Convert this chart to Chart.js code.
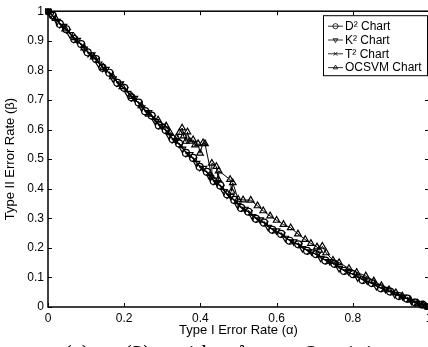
<!DOCTYPE html>
<html><head><meta charset="utf-8">
<script src="https://cdn.jsdelivr.net/npm/chart.js@4/dist/chart.umd.min.js"></script>
<style>
html,body{margin:0;padding:0;background:#fff;overflow:hidden;width:428px;height:347px;}
#wrap{position:absolute;left:0;top:0;width:440px;height:347px;}
#cap{position:absolute;left:0;top:342px;width:600px;height:40px;font-family:"Liberation Serif",serif;font-size:23px;line-height:23px;white-space:nowrap;color:#000;}
#cap span{position:absolute;top:0;}
</style></head><body>
<div id="wrap"><canvas id="c"></canvas></div>
<div id="cap"><span style="left:64px">(a)</span><span style="left:101px"><i>t</i><sub style="font-size:14px">1</sub></span><span style="left:124px">(3)</span><span style="left:172px">with</span><span style="left:238px"><i>λ</i></span><span style="left:272px">=</span><span style="left:306px">2</span><span style="left:330px">mixing</span></div>
<script>
// ---- data ----
const seriesLabels = ['D² Chart', 'K² Chart', 'T² Chart', 'OCSVM Chart'];
const xTickLabels = ['0', '0.2', '0.4', '0.6', '0.8', '1'];
const yTickLabels = ['0', '0.1', '0.2', '0.3', '0.4', '0.5', '0.6', '0.7', '0.8', '0.9', '1'];

const d2Alpha = [0,0.012,0.031,0.048,0.069,0.087,0.104,0.126,0.143,0.161,0.182,0.2,0.219,0.238,0.255,0.272,0.291,0.309,0.327,0.344,0.362,0.381,0.398,0.417,0.435,0.452,0.47,0.489,0.507,0.526,0.546,0.567,0.589,0.612,0.634,0.657,0.68,0.703,0.728,0.752,0.777,0.801,0.826,0.85,0.874,0.898,0.921,0.943,0.964,0.983,1];
const d2Beta  = [1,0.986,0.957,0.939,0.906,0.889,0.861,0.838,0.809,0.792,0.758,0.741,0.709,0.691,0.662,0.647,0.614,0.598,0.568,0.553,0.521,0.504,0.474,0.457,0.426,0.411,0.381,0.362,0.335,0.322,0.298,0.285,0.261,0.247,0.224,0.212,0.19,0.179,0.157,0.146,0.122,0.111,0.091,0.081,0.063,0.052,0.037,0.028,0.015,0.008,0];

const k2Alpha = [0,0.008,0.024,0.041,0.058,0.077,0.095,0.115,0.133,0.152,0.171,0.19,0.209,0.227,0.246,0.264,0.282,0.3,0.318,0.336,0.353,0.372,0.39,0.408,0.426,0.444,0.462,0.48,0.498,0.517,0.537,0.557,0.578,0.6,0.623,0.645,0.668,0.692,0.716,0.74,0.764,0.789,0.813,0.838,0.862,0.886,0.91,0.932,0.954,0.974,0.99,1];
const k2Beta  = [1,0.99,0.966,0.949,0.921,0.902,0.872,0.853,0.822,0.804,0.772,0.755,0.723,0.706,0.674,0.658,0.627,0.611,0.579,0.563,0.534,0.516,0.486,0.469,0.438,0.421,0.391,0.374,0.344,0.331,0.306,0.295,0.27,0.258,0.233,0.221,0.198,0.187,0.165,0.154,0.131,0.12,0.099,0.089,0.07,0.06,0.043,0.034,0.02,0.012,0.004,0];

const t2Alpha = [0,0.016,0.036,0.054,0.073,0.091,0.11,0.129,0.148,0.166,0.186,0.205,0.224,0.242,0.26,0.277,0.295,0.313,0.331,0.349,0.367,0.385,0.403,0.421,0.439,0.457,0.475,0.493,0.512,0.531,0.551,0.572,0.594,0.617,0.639,0.662,0.686,0.71,0.734,0.758,0.783,0.807,0.832,0.856,0.88,0.904,0.927,0.948,0.969,0.987,1];
const t2Beta  = [1,0.98,0.95,0.932,0.9,0.884,0.852,0.835,0.802,0.787,0.752,0.735,0.702,0.687,0.655,0.641,0.609,0.594,0.561,0.546,0.514,0.499,0.467,0.452,0.42,0.405,0.373,0.357,0.33,0.319,0.293,0.282,0.257,0.244,0.22,0.209,0.186,0.176,0.153,0.142,0.118,0.108,0.088,0.078,0.06,0.049,0.034,0.026,0.013,0.006,0];

const ocAlpha = [0,0.02,0.045,0.07,0.095,0.12,0.145,0.17,0.195,0.22,0.245,0.265,0.289,0.31,0.32,0.338,0.345,0.352,0.356,0.362,0.366,0.372,0.381,0.386,0.394,0.399,0.407,0.412,0.43,0.43,0.442,0.447,0.448,0.478,0.482,0.485,0.499,0.512,0.532,0.55,0.565,0.583,0.6,0.618,0.637,0.656,0.675,0.69,0.706,0.712,0.72,0.73,0.748,0.764,0.79,0.81,0.834,0.855,0.875,0.895,0.913,0.93,0.95,0.97,0.985,1];
const ocBeta  = [1,0.975,0.94,0.91,0.876,0.845,0.81,0.778,0.745,0.712,0.68,0.652,0.632,0.612,0.59,0.572,0.59,0.605,0.578,0.56,0.592,0.56,0.565,0.548,0.552,0.52,0.555,0.552,0.44,0.486,0.475,0.431,0.46,0.431,0.391,0.42,0.364,0.362,0.361,0.342,0.325,0.308,0.293,0.279,0.268,0.247,0.228,0.215,0.203,0.192,0.205,0.183,0.158,0.15,0.13,0.117,0.105,0.088,0.072,0.058,0.048,0.037,0.024,0.013,0.006,0];

const pts = (xs, ys) => xs.map((v, i) => ({x: v, y: ys[i]}));
const pointStyles = ['circle', 'triangle', 'crossRot', 'triangle'];
const pointRots = [0, 180, 0, 0];
const pointRadii = [3.5, 3.7, 3.5, 3.8];

function ds(i, data) {
  return {
    label: seriesLabels[i], data, showLine: true,
    borderColor: '#000', borderWidth: 1, backgroundColor: 'rgba(0,0,0,0)',
    pointStyle: pointStyles[i], pointRotation: pointRots[i], pointRadius: pointRadii[i],
    pointBorderColor: '#000', pointBackgroundColor: 'rgba(0,0,0,0)', pointBorderWidth: 1.2,
    clip: 3
  };
}

const framePlugin = {
  id: 'frame',
  afterDatasetsDraw(chart) {
    const {ctx, chartArea: a, scales: {x, y}} = chart;
    ctx.save();
    ctx.strokeStyle = '#000';
    ctx.lineWidth = 1;
    ctx.beginPath();
    x.ticks.forEach(t => {
      const px = Math.round(x.getPixelForValue(t.value)) + 0.5;
      ctx.moveTo(px, a.bottom); ctx.lineTo(px, a.bottom - 4);
      ctx.moveTo(px, a.top); ctx.lineTo(px, a.top + 4);
    });
    y.ticks.forEach(t => {
      const py = Math.round(y.getPixelForValue(t.value)) + 0.5;
      ctx.moveTo(a.left, py); ctx.lineTo(a.left + 4, py);
      ctx.moveTo(a.right, py); ctx.lineTo(a.right - 4, py);
    });
    ctx.stroke();
    ctx.lineWidth = 1.5;
    ctx.strokeRect(a.left, a.top, a.right - a.left, a.bottom - a.top);
    ctx.restore();
  },
  afterDraw(chart) {
    const {ctx, chartArea: a} = chart;
    const w = 104, h = 60;
    const bx = a.right - 2 - w, by = a.top + 4;
    ctx.save();
    ctx.fillStyle = '#fff';
    ctx.fillRect(bx, by, w, h);
    ctx.strokeStyle = '#000'; ctx.lineWidth = 1;
    ctx.strokeRect(bx + 0.5, by + 0.5, w, h);
    ctx.font = '12px "Liberation Sans", Arial, sans-serif';
    ctx.textBaseline = 'middle';
    chart.data.datasets.forEach((d, i) => {
      const ry = by + 11 + i * 13.8;
      ctx.beginPath();
      ctx.lineWidth = 0.8;
      ctx.strokeStyle = '#000';
      ctx.moveTo(bx + 5, ry); ctx.lineTo(bx + 20, ry);
      ctx.stroke();
      const opts = {pointStyle: d.pointStyle, rotation: d.pointRotation, radius: 2.6, borderWidth: 0.8};
      ctx.fillStyle = 'rgba(0,0,0,0)';
      if (Chart.helpers && Chart.helpers.drawPoint) {
        Chart.helpers.drawPoint(ctx, opts, bx + 12.5, ry);
      }
      ctx.fillStyle = '#000';
      ctx.fillText(d.label, bx + 22, ry + 0.5);
    });
    ctx.restore();
  }
};

new Chart(document.getElementById('c'), {
  type: 'scatter',
  data: {
    datasets: [ds(0, pts(d2Alpha, d2Beta)), ds(1, pts(k2Alpha, k2Beta)), ds(2, pts(t2Alpha, t2Beta)), ds(3, pts(ocAlpha, ocBeta))]
  },
  options: {
    responsive: true, maintainAspectRatio: false, animation: false, devicePixelRatio: 1,
    layout: {padding: {top: 8, right: 11, left: 0, bottom: 0}},
    plugins: {legend: {display: false}, tooltip: {enabled: false}},
    scales: {
      x: {
        type: 'linear', min: 0, max: 1,
        ticks: {stepSize: 0.2, padding: 4, color: '#000', font: {family: '"Liberation Sans", Arial, sans-serif', size: 12},
          callback: (v) => xTickLabels[Math.round(v / 0.2)], maxRotation: 0, autoSkip: false},
        grid: {display: false, drawTicks: false},
        border: {display: false},
        title: {display: true, text: 'Type I Error Rate (α)', color: '#000', font: {family: '"Liberation Sans", Arial, sans-serif', size: 13}, padding: {top: 0, bottom: 9}},
        afterFit: (s) => { s.height = 40; }
      },
      y: {
        type: 'linear', min: 0, max: 1,
        ticks: {stepSize: 0.1, padding: 4, color: '#000', font: {family: '"Liberation Sans", Arial, sans-serif', size: 12},
          callback: (v) => yTickLabels[Math.round(v / 0.1)], autoSkip: false},
        grid: {display: false, drawTicks: false},
        border: {display: false},
        title: {display: true, text: 'Type II Error Rate (β)', color: '#000', font: {family: '"Liberation Sans", Arial, sans-serif', size: 13}, padding: {top: 3, bottom: 0}},
        afterFit: (s) => { s.width = 48; }
      }
    }
  },
  plugins: [framePlugin]
});
</script>
</body></html>
